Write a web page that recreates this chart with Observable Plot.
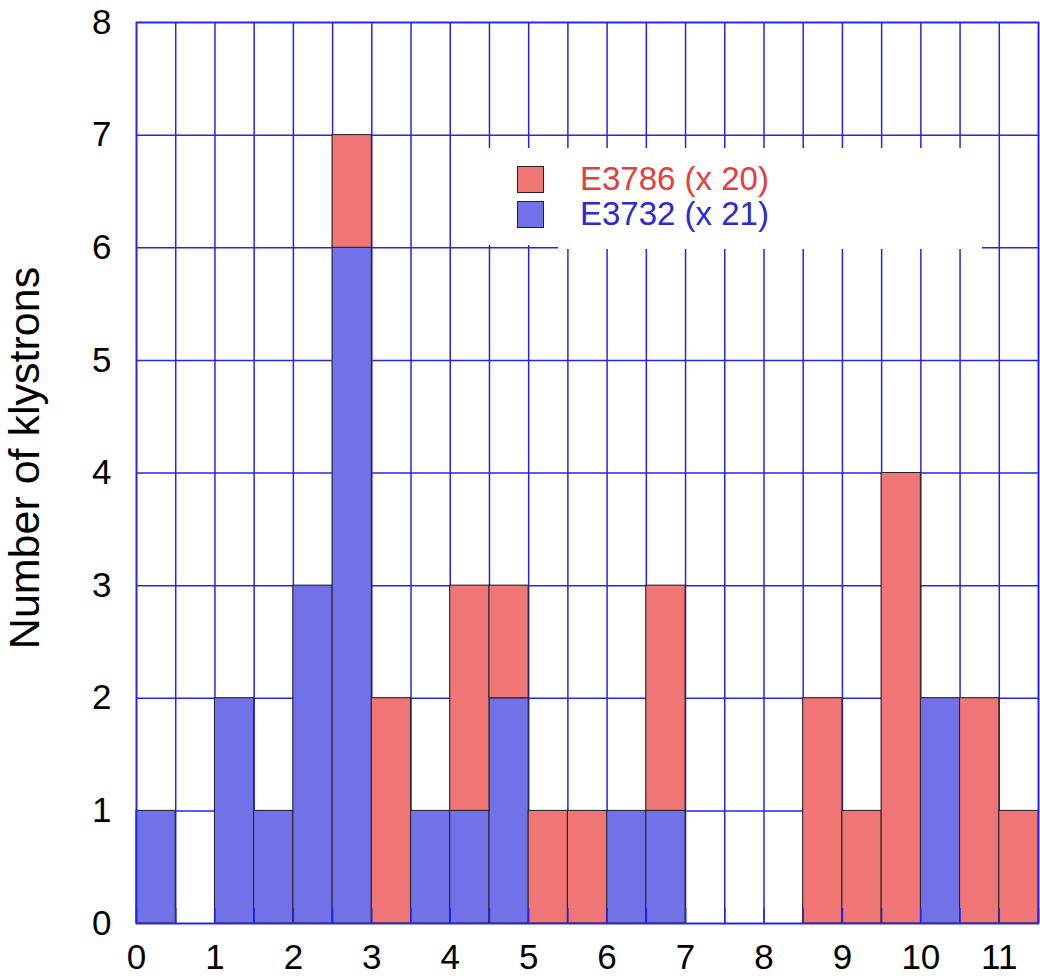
<!DOCTYPE html>
<html>
<head>
<meta charset="utf-8">
<script src="https://cdn.jsdelivr.net/npm/d3@7"></script>
<script src="https://cdn.jsdelivr.net/npm/@observablehq/plot@0.6"></script>
<style>
  html, body { margin: 0; padding: 0; background: #fff; }
  #wrap { position: relative; width: 1040px; height: 976px; font-family: "Liberation Sans", Arial, sans-serif; }
  #ytitle { position: absolute; left: 24px; top: 458px; transform: translate(-50%, -50%) rotate(-90deg);
            white-space: nowrap; font-size: 43px; line-height: 44px; color: #000; }
  .lgbox { position: absolute; background: #fff; }
  .lgitem { position: absolute; font-size: 33px; line-height: 33px; white-space: nowrap; }
  .lgitem svg { position: absolute; left: 0; top: 0; }
</style>
</head>
<body>
<div id="wrap"></div>
<script>
// Bin starts (bin width 0.5)
const binStarts = [0, 0.5, 1, 1.5, 2, 2.5, 3, 3.5, 4, 4.5, 5, 5.5, 6, 6.5, 7, 7.5, 8, 8.5, 9, 9.5, 10, 10.5, 11];
const binWidth = 0.5;
// Counts per bin
const e3732 = [1, 0, 2, 1, 3, 6, 0, 1, 1, 2, 0, 0, 1, 1, 0, 0, 0, 0, 0, 0, 2, 0, 0];
const e3786 = [0, 0, 0, 0, 0, 1, 2, 0, 2, 1, 1, 1, 0, 2, 0, 0, 0, 2, 1, 4, 0, 2, 1];
const seriesNames = ["E3786 (x 20)", "E3732 (x 21)"];
const xTickValues = [0, 1, 2, 3, 4, 5, 6, 7, 8, 9, 10, 11];
const yTickValues = [0, 1, 2, 3, 4, 5, 6, 7, 8];
const yTitle = "Number of klystrons";

const BLUE = "#2424ee";
const RED_FILL = "#f07575";
const BLUE_FILL = "#7272e8";

const blueSegs = binStarts.map((x, i) => ({x1: x, x2: x + binWidth, y1: 0, y2: e3732[i]})).filter(d => d.y2 > 0);
const redSegs = binStarts.map((x, i) => ({x1: x, x2: x + binWidth, y1: e3732[i], y2: e3732[i] + e3786[i]})).filter(d => d.y2 > d.y1);
const gridXValues = binStarts.concat([binStarts[binStarts.length - 1] + binWidth]);

const chart = Plot.plot({
  width: 1040,
  height: 976,
  marginLeft: 136,
  marginRight: 2,
  marginTop: 22,
  marginBottom: 53,
  x: {domain: [0, 11.5]},
  y: {domain: [0, 8]},
  style: {fontFamily: "'Liberation Sans', Arial, sans-serif", background: "#fff", color: "#000"},
  marks: [
    Plot.gridX(gridXValues, {stroke: BLUE, strokeOpacity: 1, strokeWidth: 1.5}),
    Plot.gridY(yTickValues, {stroke: BLUE, strokeOpacity: 1, strokeWidth: 1.5}),
    Plot.rect(blueSegs, {x1: "x1", x2: "x2", y1: "y1", y2: "y2", fill: BLUE_FILL, stroke: "#222", strokeWidth: 1}),
    Plot.rect(redSegs, {x1: "x1", x2: "x2", y1: "y1", y2: "y2", fill: RED_FILL, stroke: "#222", strokeWidth: 1}),
    Plot.axisX(gridXValues, {tickSize: -15, stroke: BLUE, strokeWidth: 1.5, tickFormat: () => "", label: null}),
    Plot.axisX(xTickValues, {tickSize: 0, tickPadding: 21, fontSize: 35, tickFormat: d3.format("d"), label: null}),
    Plot.axisY(yTickValues, {tickSize: 0, tickPadding: 25, fontSize: 35, tickFormat: d3.format("d"), label: null}),
    Plot.frame({stroke: BLUE, strokeWidth: 1.6})
  ]
});

const wrap = document.getElementById("wrap");
wrap.appendChild(chart);

// y-axis title
const yt = document.createElement("div");
yt.id = "ytitle";
yt.textContent = yTitle;
wrap.appendChild(yt);

// legend (white box over grid)
const box1 = document.createElement("div");
box1.className = "lgbox";
Object.assign(box1.style, {left: "478px", top: "148px", width: "82px", height: "97px"});
wrap.appendChild(box1);
const box2 = document.createElement("div");
box2.className = "lgbox";
Object.assign(box2.style, {left: "558px", top: "148px", width: "424px", height: "101px"});
wrap.appendChild(box2);

const legendColors = ["#e83b3b", "#2a2ad6"];
const legendFills = [RED_FILL, BLUE_FILL];
seriesNames.forEach((name, i) => {
  const item = document.createElement("div");
  item.className = "lgitem";
  Object.assign(item.style, {left: "517px", top: (166 + i * 35) + "px", height: "28px", width: "300px"});
  item.innerHTML = `<svg width="28" height="28"><rect x="0.5" y="0.5" width="26" height="26" fill="${legendFills[i]}" stroke="#222" stroke-width="1"/></svg>` +
    `<span style="position:absolute;left:63px;top:-4px;color:${legendColors[i]}">${name}</span>`;
  wrap.appendChild(item);
});
</script>
</body>
</html>
